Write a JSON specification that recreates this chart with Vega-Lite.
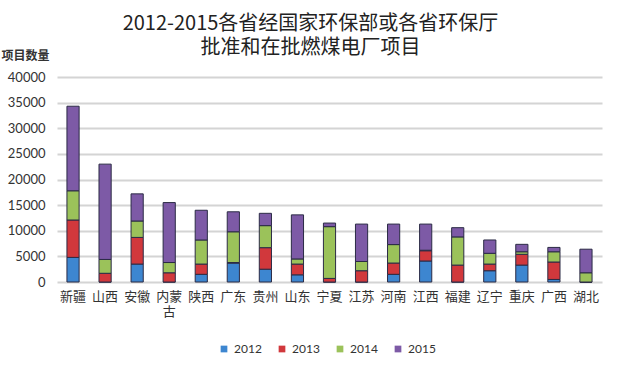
{
  "$schema": "https://vega.github.io/schema/vega-lite/v6.json",
  "width": 545,
  "height": 205,
  "autosize": {"type": "none"},
  "padding": {"left": 57, "top": 77, "right": 18, "bottom": 85},
  "background": "#ffffff",
  "title": {
    "text": ["2012-2015各省经国家环保部或各省环保厅", "批准和在批燃煤电厂项目"],
    "font": "Noto Sans CJK SC",
    "fontSize": 20,
    "fontWeight": "normal",
    "lineHeight": 24,
    "color": "#222222",
    "anchor": "middle",
    "dx": -19,
    "offset": -9
  },
  "data": {
    "values": [
      {"province": "新疆", "2012": 4800, "2013": 7300, "2014": 5700, "2015": 16500},
      {"province": "山西", "2012": 0, "2013": 1700, "2014": 2700, "2015": 18600},
      {"province": "安徽", "2012": 3500, "2013": 5200, "2014": 3200, "2015": 5300},
      {"province": "内蒙古", "2012": 0, "2013": 1800, "2014": 2000, "2015": 11700},
      {"province": "陕西", "2012": 1500, "2013": 2000, "2014": 4700, "2015": 5800},
      {"province": "广东", "2012": 3700, "2013": 100, "2014": 6000, "2015": 3900},
      {"province": "贵州", "2012": 2500, "2013": 4200, "2014": 4300, "2015": 2400},
      {"province": "山东", "2012": 1400, "2013": 2100, "2014": 1000, "2015": 8600},
      {"province": "宁夏", "2012": 0, "2013": 700, "2014": 10100, "2015": 700},
      {"province": "江苏", "2012": 0, "2013": 2200, "2014": 1800, "2015": 7300},
      {"province": "河南", "2012": 1500, "2013": 2200, "2014": 3600, "2015": 4000},
      {"province": "江西", "2012": 4100, "2013": 2000, "2014": 100, "2015": 5100},
      {"province": "福建", "2012": 0, "2013": 3300, "2014": 5500, "2015": 1800},
      {"province": "辽宁", "2012": 2200, "2013": 1300, "2014": 2100, "2015": 2600},
      {"province": "重庆", "2012": 3300, "2013": 2100, "2014": 500, "2015": 1450},
      {"province": "广西", "2012": 500, "2013": 3400, "2014": 2000, "2015": 850},
      {"province": "湖北", "2012": 0, "2013": 0, "2014": 1800, "2015": 4600}
    ]
  },
  "transform": [
    {"fold": ["2012", "2013", "2014", "2015"], "as": ["year", "count"]}
  ],
  "mark": {"type": "bar", "stroke": "#2b2b45", "strokeWidth": 1},
  "encoding": {
    "x": {
      "field": "province",
      "type": "nominal",
      "sort": null,
      "scale": {"paddingInner": 0.62, "paddingOuter": 0.31},
      "axis": {
        "title": null,
        "labelAngle": 0,
        "labelFont": "Noto Sans CJK SC",
        "labelFontSize": 13,
        "labelColor": "#333333",
        "labelPadding": 8,
        "labelLineHeight": 15,
        "ticks": false,
        "domain": false,
        "labelExpr": "datum.value == '内蒙古' ? ['内蒙', '古'] : datum.value"
      }
    },
    "y": {
      "field": "count",
      "type": "quantitative",
      "stack": "zero",
      "scale": {"domain": [0, 40000], "nice": false},
      "axis": {
        "values": [0, 5000, 10000, 15000, 20000, 25000, 30000, 35000, 40000],
        "format": "d",
        "title": "项目数量",
        "titleAngle": 0,
        "titleFont": "Noto Sans CJK SC",
        "titleFontSize": 12,
        "titleFontWeight": "bold",
        "titleColor": "#333333",
        "titleAlign": "left",
        "titleBaseline": "middle",
        "titleX": -56,
        "titleY": -22,
        "labelFont": "Lato",
        "labelFontSize": 13,
        "labelColor": "#333333",
        "labelPadding": 12,
        "ticks": false,
        "domain": false,
        "gridColor": "#d4d4d4",
        "gridWidth": 2
      }
    },
    "color": {
      "field": "year",
      "type": "nominal",
      "scale": {
        "domain": ["2012", "2013", "2014", "2015"],
        "range": ["#3d86d0", "#d1383c", "#9bc25a", "#7d5aa6"]
      },
      "legend": {
        "title": null,
        "orient": "none",
        "direction": "horizontal",
        "legendX": 161,
        "legendY": 266,
        "symbolType": "square",
        "symbolSize": 45,
        "symbolStrokeWidth": 0,
        "labelFont": "Lato",
        "labelFontSize": 12,
        "labelColor": "#333333",
        "columnPadding": 14,
        "labelOffset": 4,
        "padding": 0
      }
    },
    "order": {"field": "year", "type": "ordinal", "sort": "ascending"}
  },
  "config": {"view": {"stroke": null}}
}
